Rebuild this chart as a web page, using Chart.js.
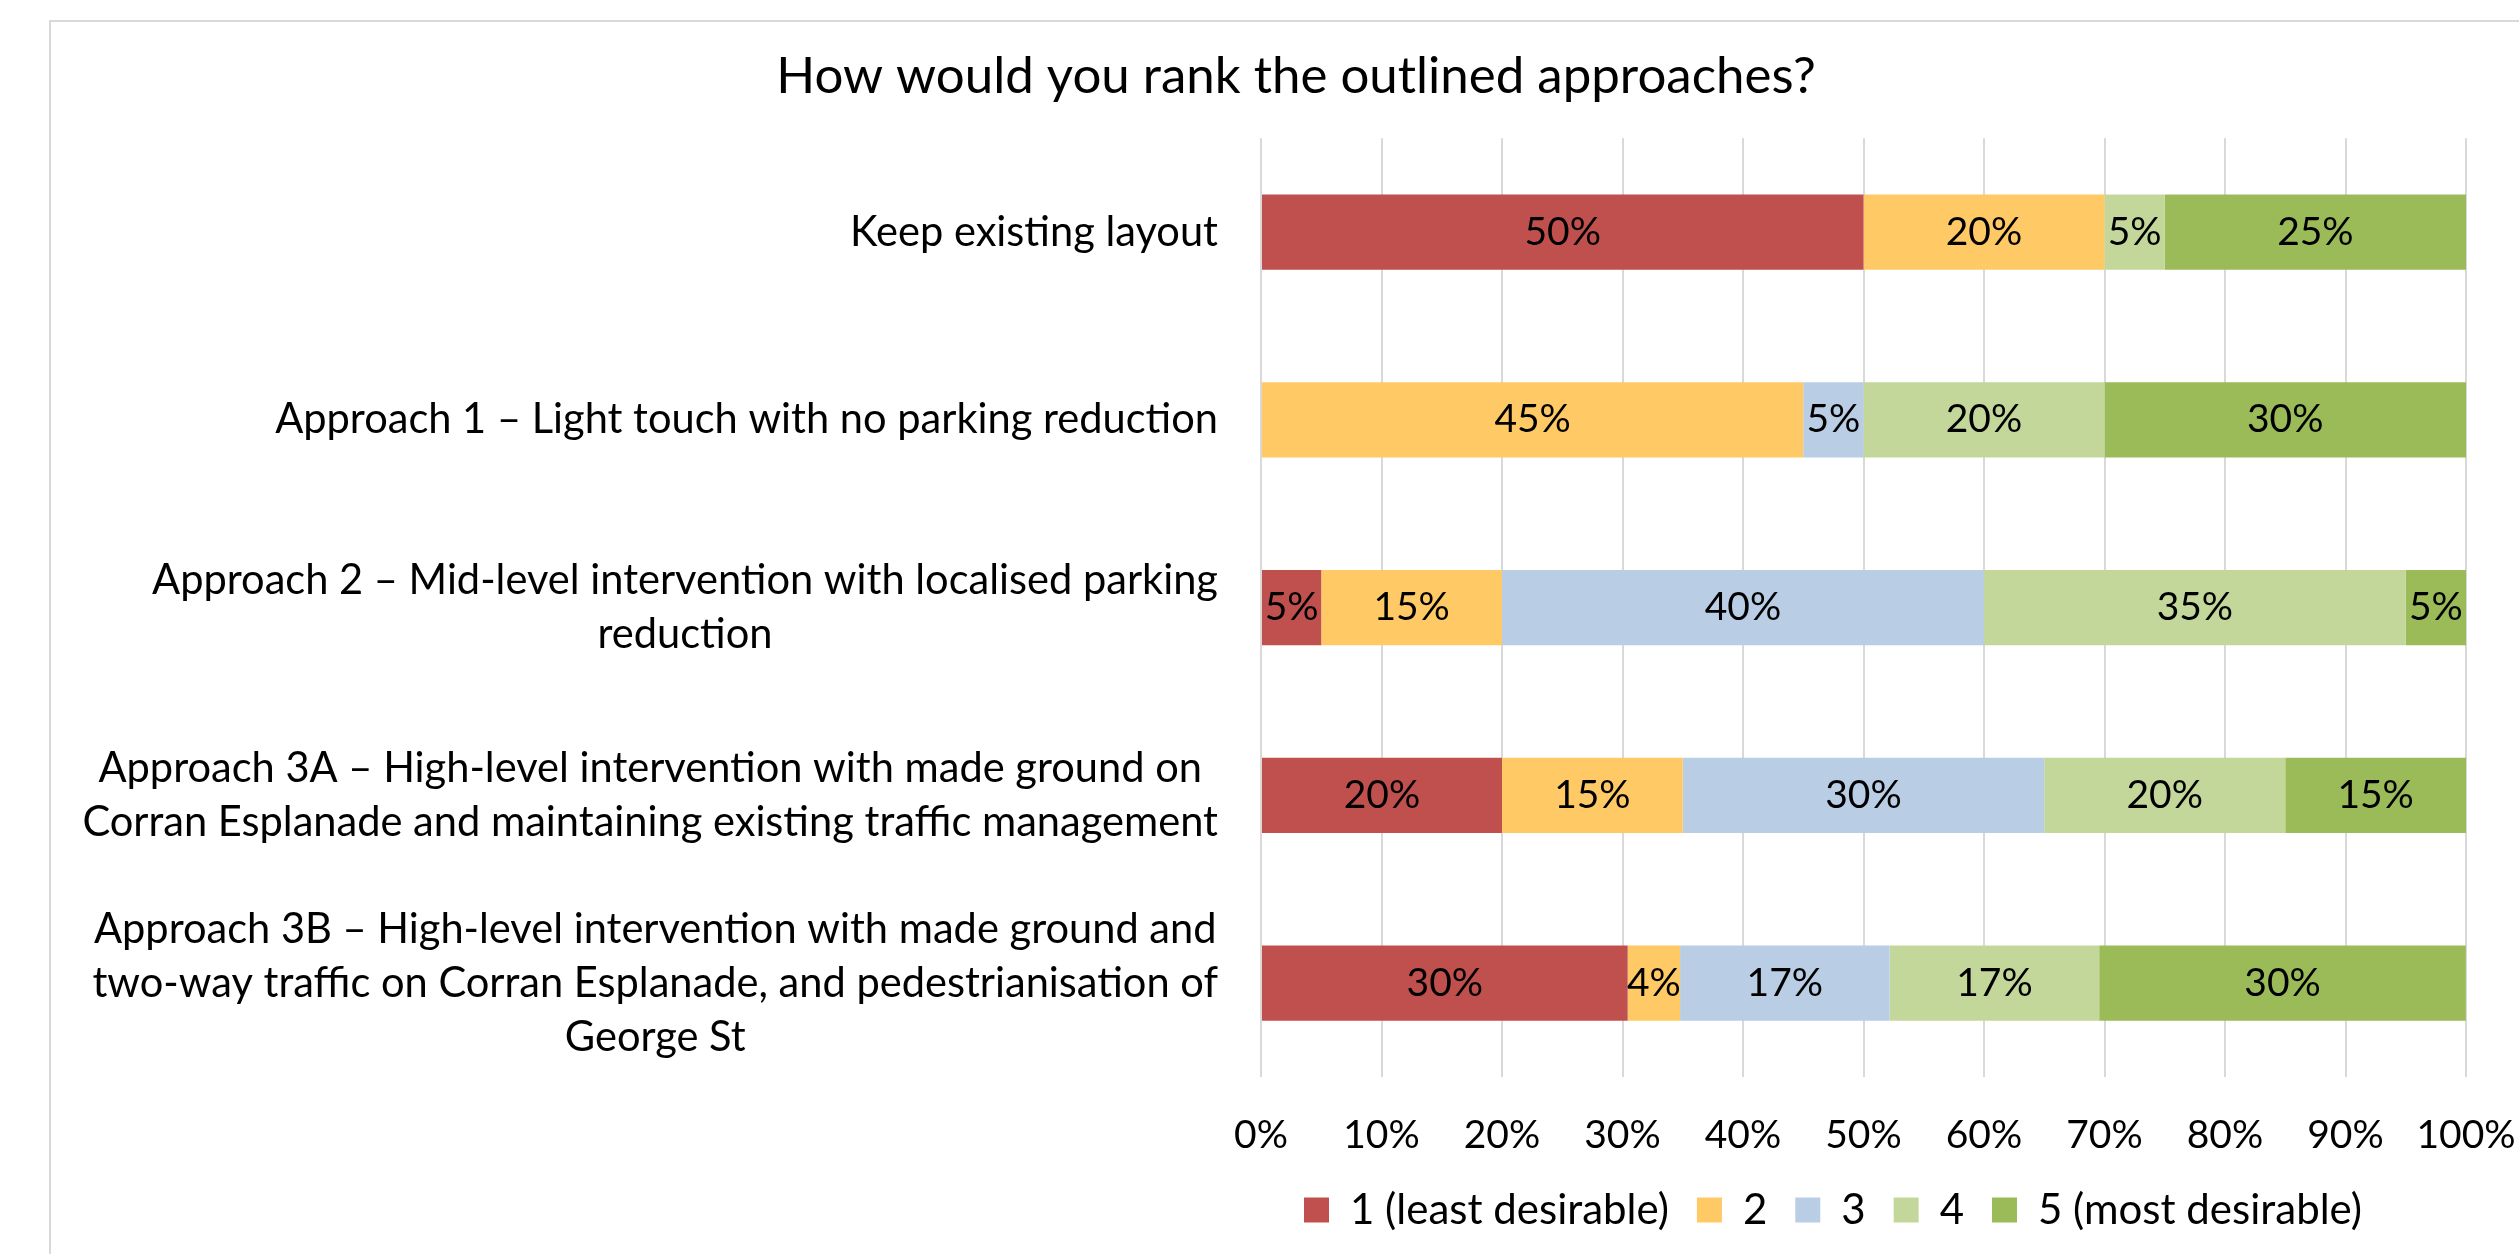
<!DOCTYPE html>
<html lang="en">
  <head>
    <meta charset="UTF-8" />
    <title>How would you rank the outlined approaches?</title>
    <script src="https://cdn.jsdelivr.net/npm/chart.js@4.4.1/dist/chart.umd.min.js"></script>
    <style>
      html,
      body {
        margin: 0;
        padding: 0;
        background: #fff;
        overflow: hidden;
      }
      .frame {
        position: absolute;
        left: 49px;
        top: 20px;
        width: 2700px;
        height: 1400px;
        border: 2px solid #d9d9d9;
      }
      canvas {
        position: absolute;
        left: 0;
        top: 0;
      }
    </style>
  </head>
  <body>
    <div class="frame"></div>
    <canvas id="myChart" width="2519" height="1254"></canvas>
    <script>
      // categories, one array of lines per bar
      const approaches = [
        ["Keep existing layout"],
        ["Approach 1 \u2013 Light touch with no parking reduction"],
        [
          "Approach 2 \u2013 Mid-level intervention with localised parking",
          "reduction",
        ],
        [
          "Approach 3A \u2013 High-level intervention with made ground on",
          "Corran Esplanade and maintaining existing traffic management",
        ],
        [
          "Approach 3B \u2013 High-level intervention with made ground and",
          "two-way traffic on Corran Esplanade, and pedestrianisation of",
          "George St",
        ],
      ]

      const rankNames = [
        "1 (least desirable)",
        "2",
        "3",
        "4",
        "5 (most desirable)",
      ]

      // share of responses (%) per approach
      const rank1 = [50, 0, 5, 20, 30.43]
      const rank2 = [20, 45, 15, 15, 4.35]
      const rank3 = [0, 5, 40, 30, 17.39]
      const rank4 = [5, 20, 35, 20, 17.39]
      const rank5 = [25, 30, 5, 15, 30.43]

      const xTicks = [0, 10, 20, 30, 40, 50, 60, 70, 80, 90, 100]

      const colors = ["#C0504D", "#FFCA65", "#B9CDE5", "#C4D79B", "#9BBB59"]
      const fontFamily = "Lato, 'Open Sans', sans-serif"
      const numberSize = 39
      const categorySize = 41.6
      const legendSize = 42

      const barLabels = {
        id: "barLabels",
        afterDatasetsDraw(chart) {
          const ctx = chart.ctx
          ctx.save()
          ctx.font = `${numberSize}px ${fontFamily}`
          ctx.fillStyle = "#000"
          ctx.textAlign = "center"
          ctx.textBaseline = "middle"
          chart.data.datasets.forEach((ds, i) => {
            chart.getDatasetMeta(i).data.forEach((bar, j) => {
              const v = ds.data[j]
              if (!v) return
              ctx.fillText(Math.round(v) + "%", (bar.x + bar.base) / 2, bar.y)
            })
          })
          ctx.restore()
        },
      }

      // category labels: right aligned as a block, lines centred inside it
      const categoryLabels = {
        id: "categoryLabels",
        afterDraw(chart) {
          const ctx = chart.ctx
          const yScale = chart.scales.y
          const lineHeight = 54
          ctx.save()
          ctx.font = `${categorySize}px ${fontFamily}`
          ctx.fillStyle = "#000"
          ctx.textAlign = "center"
          ctx.textBaseline = "middle"
          chart.data.labels.forEach((lines, i) => {
            const widest = Math.max(...lines.map((l) => ctx.measureText(l).width))
            const cx = chart.chartArea.left - 43 - widest / 2
            const cy = yScale.getPixelForTick(i)
            lines.forEach((line, k) => {
              ctx.fillText(line, cx, cy + (k - (lines.length - 1) / 2) * lineHeight)
            })
          })
          ctx.restore()
        },
      }

      // legend sits under the right part of the chart, not under the title
      const legendShift = {
        id: "legendShift",
        afterLayout(chart) {
          chart.legend.left += 537
          chart.legend.right += 537
        },
      }

      const series = [rank1, rank2, rank3, rank4, rank5]

      const ctx = document.getElementById("myChart").getContext("2d")
      const myChart = new Chart(ctx, {
        type: "bar",
        data: {
          labels: approaches,
          datasets: series.map((data, i) => ({
            label: rankNames[i],
            data: data,
            backgroundColor: colors[i],
            borderWidth: 0,
            categoryPercentage: 1,
            barPercentage: 0.4,
          })),
        },
        options: {
          indexAxis: "y",
          responsive: false,
          animation: false,
          layout: {
            padding: { left: 126, right: 53, top: 0, bottom: 13 },
          },
          scales: {
            x: {
              stacked: true,
              min: 0,
              max: 100,
              afterBuildTicks: (s) => {
                s.ticks = xTicks.map((v) => ({ value: v }))
              },
              afterFit: (s) => {
                s.height = 84
              },
              grid: {
                color: "#d9d9d9",
                lineWidth: 2,
                drawTicks: true,
                tickLength: 35,
                tickColor: "rgba(0,0,0,0)",
              },
              border: { display: false },
              ticks: {
                padding: 0,
                color: "#000",
                font: { family: fontFamily, size: numberSize, lineHeight: 1.2 },
                callback: (v) => v + "%",
              },
            },
            y: {
              stacked: true,
              afterFit: (s) => {
                s.width = 1135
              },
              grid: { display: false },
              border: { display: false },
              ticks: { display: false },
            },
          },
          plugins: {
            title: {
              display: true,
              text: "How would you rank the outlined approaches?",
              color: "#000",
              font: { family: fontFamily, size: 51, weight: "normal", lineHeight: 1.2 },
              padding: { top: 46, bottom: 31 },
            },
            legend: {
              position: "bottom",
              labels: {
                boxWidth: 25,
                boxHeight: 25,
                padding: 28,
                color: "#000",
                font: { family: fontFamily, size: legendSize },
              },
            },
            tooltip: { enabled: false },
          },
        },
        plugins: [barLabels, categoryLabels, legendShift],
      })
    </script>
  </body>
</html>
